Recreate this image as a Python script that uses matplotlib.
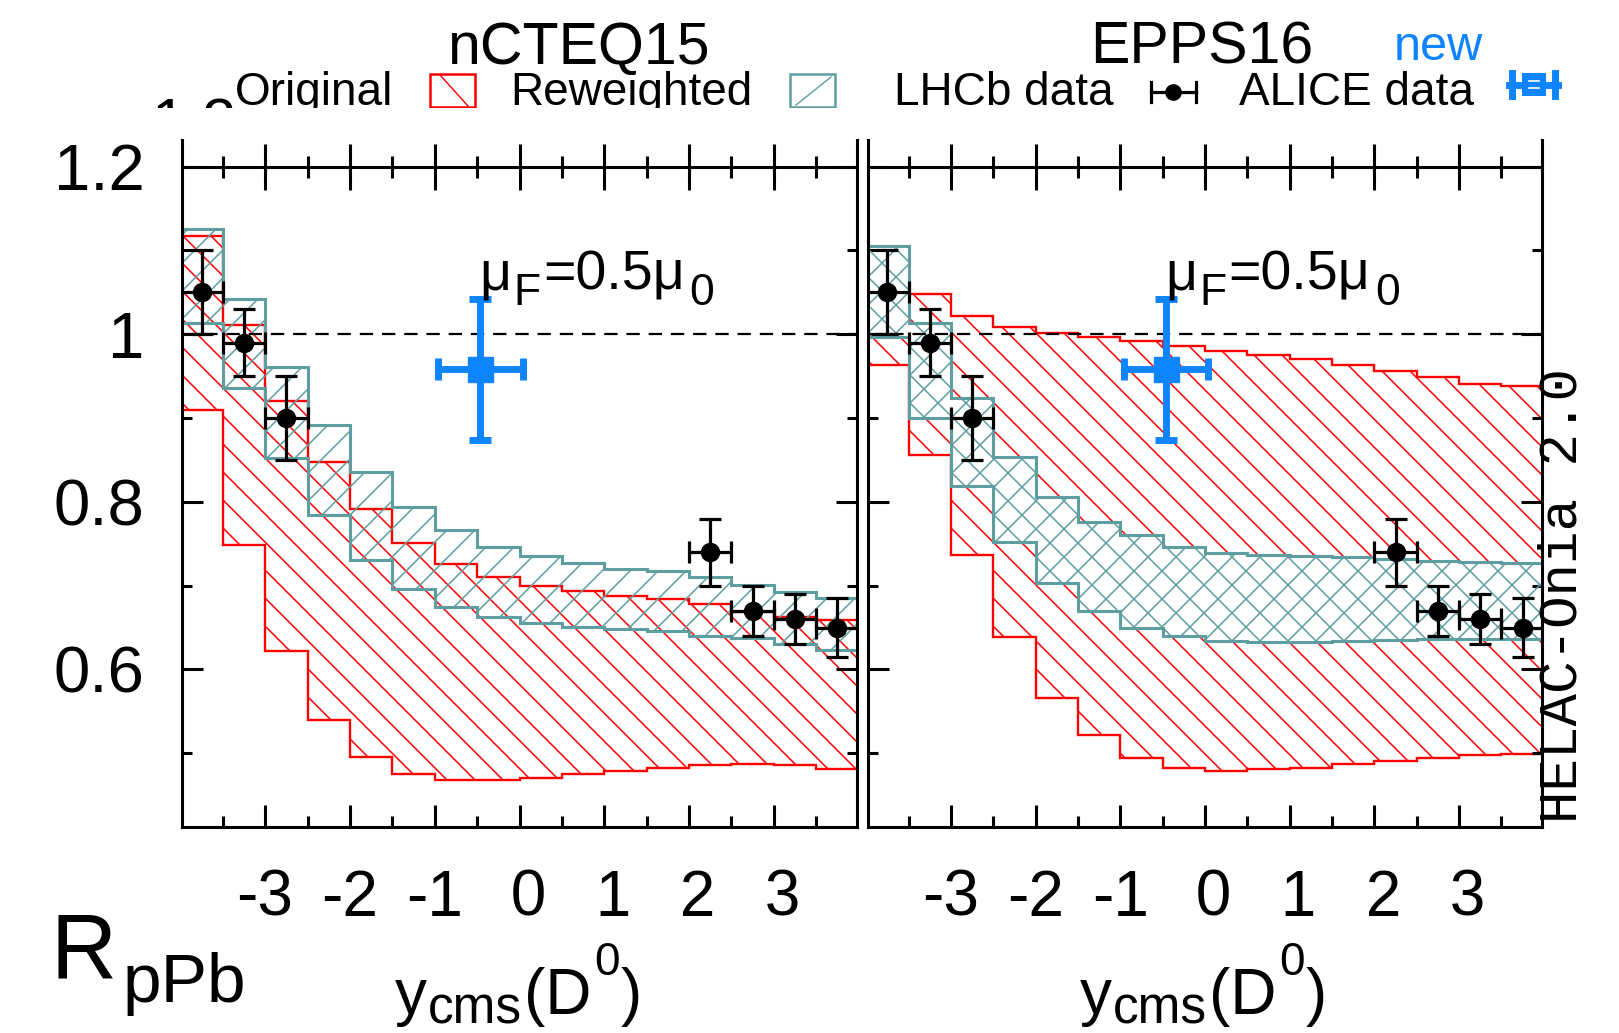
import numpy as np
import matplotlib
matplotlib.use("Agg")
import matplotlib.pyplot as plt
from matplotlib.collections import LineCollection
from matplotlib.lines import Line2D
from matplotlib.patches import Polygon, Rectangle
from matplotlib.transforms import Bbox, IdentityTransform

W, H = 1619, 1033
DPI = 100

# rapidity bins of the predictions
bin_edges = [-4.0, -3.5, -3.0, -2.5, -2.0, -1.5, -1.0, -0.5, 0.0,
             0.5, 1.0, 1.5, 2.0, 2.5, 3.0, 3.5, 4.0]

# nCTEQ15: original (red) and reweighted (teal) uncertainty bands
ncteq_orig_hi = [1.117, 1.011, 0.920, 0.847, 0.791, 0.751, 0.726, 0.710,
                 0.700, 0.694, 0.688, 0.684, 0.678, 0.668, 0.662, 0.659]
ncteq_orig_lo = [0.910, 0.748, 0.622, 0.540, 0.495, 0.475, 0.468, 0.468,
                 0.471, 0.475, 0.479, 0.483, 0.486, 0.487, 0.486, 0.481]
ncteq_rew_hi = [1.126, 1.042, 0.961, 0.892, 0.836, 0.794, 0.766, 0.746,
                0.735, 0.727, 0.720, 0.717, 0.710, 0.701, 0.693, 0.685]
ncteq_rew_lo = [1.013, 0.936, 0.852, 0.784, 0.731, 0.696, 0.674, 0.662,
                0.656, 0.651, 0.648, 0.646, 0.640, 0.638, 0.630, 0.623]

# EPPS16
epps_orig_hi = [1.102, 1.048, 1.022, 1.009, 1.002, 0.997, 0.992, 0.986,
                0.980, 0.975, 0.970, 0.963, 0.956, 0.949, 0.941, 0.938]
epps_orig_lo = [0.963, 0.856, 0.736, 0.639, 0.566, 0.522, 0.494, 0.482,
                0.479, 0.481, 0.483, 0.487, 0.491, 0.494, 0.498, 0.499]
epps_rew_hi = [1.105, 1.013, 0.924, 0.853, 0.806, 0.776, 0.760, 0.746,
               0.739, 0.736, 0.735, 0.734, 0.732, 0.730, 0.728, 0.727]
epps_rew_lo = [0.997, 0.900, 0.819, 0.752, 0.703, 0.670, 0.649, 0.640,
               0.634, 0.633, 0.633, 0.634, 0.635, 0.636, 0.636, 0.636]

# LHCb data
lhcb_y = [-3.75, -3.25, -2.75, 2.25, 2.75, 3.25, 3.75]
lhcb_r = [1.05, 0.99, 0.90, 0.74, 0.67, 0.66, 0.65]
lhcb_err = [0.05, 0.04, 0.05, 0.04, 0.03, 0.03, 0.035]
lhcb_dy = [0.25, 0.25, 0.25, 0.25, 0.25, 0.25, 0.25]

# ALICE data (new)
alice_y = [-0.46]
alice_r = [0.958]
alice_err = [0.084]
alice_dy = [0.5]

x_major = [-3, -2, -1, 0, 1, 2, 3]
x_labels = ["-3", "-2", "-1", " 0", " 1", " 2", " 3"]
x_minor = [-3.5, -2.5, -1.5, -0.5, 0.5, 1.5, 2.5, 3.5]
y_major = [0.6, 0.8, 1.0, 1.2]
y_minor = [0.5, 0.7, 0.9, 1.1]
y_labels = ["0.6", "0.8", "1", "1.2"]

panel_names = ["nCTEQ15", "EPPS16"]

RED = "#ff0000"
TEAL = "#5f9ea0"
BLUE = "#0f84ff"
XLIM = (-3.98, 3.98)
YLIM = (0.412, 1.2318)

plt.rcParams["font.family"] = ["Liberation Sans", "DejaVu Sans"]
plt.rcParams["axes.unicode_minus"] = False


def fx(px):
    return px / W


def fy(py):
    return 1 - py / H


def band_polygon(edges, lo, hi):
    xs = np.repeat(edges, 2)[1:-1]
    up = np.repeat(hi, 2)
    dn = np.repeat(lo, 2)
    return np.column_stack([np.concatenate([xs, xs[::-1]]),
                            np.concatenate([up, dn[::-1]])])


def hatch(ax, patch, directions, spacing, color, lw, zorder):
    x0, y0, x1, y1 = ax.bbox.extents
    segs = []
    for d in directions:
        if d == "\\":
            cs = np.arange(np.floor((x0 + y0) / spacing), np.ceil((x1 + y1) / spacing) + 1) * spacing
            segs += [[(c - y0, y0), (c - y1, y1)] for c in cs]
        else:
            cs = np.arange(np.floor((y0 - x1) / spacing), np.ceil((y1 - x0) / spacing) + 1) * spacing
            segs += [[(y0 - c, y0), (y1 - c, y1)] for c in cs]
    lc = LineCollection(segs, colors=color, linewidths=lw,
                        transform=IdentityTransform(), zorder=zorder)
    ax.add_collection(lc, autolim=False)
    lc.set_clip_path(patch)


def compose(x, y, pieces):
    """Write text pieces one after another; x, y are display pixels (baseline)."""
    renderer = fig.canvas.get_renderer()
    for s, size, dy, gap in pieces:
        t = fig.text(x, y + dy, s, fontsize=size, ha="left", va="baseline",
                     transform=IdentityTransform(), zorder=8)
        x += t.get_window_extent(renderer).width + gap


def draw_panel(ax, orig_lo, orig_hi, rew_lo, rew_hi, cross):
    ax.set_xlim(*XLIM)
    ax.set_ylim(*YLIM)

    red_poly = band_polygon(bin_edges, orig_lo, orig_hi)
    red_patch = Polygon(red_poly, closed=True, facecolor="none", edgecolor="none", zorder=1)
    ax.add_patch(red_patch)
    hatch(ax, red_patch, ["\\"], 28, RED, 1.1, 1.1)
    ax.add_patch(Polygon(red_poly, closed=True, facecolor="none", edgecolor=RED,
                         lw=1.7, zorder=1.2))

    teal_poly = band_polygon(bin_edges, rew_lo, rew_hi)
    teal_patch = Polygon(teal_poly, closed=True, facecolor="white" if cross else "none",
                         edgecolor="none", zorder=1.5)
    ax.add_patch(teal_patch)
    hatch(ax, teal_patch, ["/", "\\"] if cross else ["/"], 28, TEAL, 1.1, 1.6)
    ax.add_patch(Polygon(teal_poly, closed=True, facecolor="none", edgecolor=TEAL,
                         lw=2.2, zorder=1.7))

    ax.axhline(1.0, color="black", lw=1.6, ls=(0, (6, 4)), zorder=2)

    ax.errorbar(lhcb_y, lhcb_r, xerr=lhcb_dy, yerr=lhcb_err, fmt="o", color="black",
                ms=13, elinewidth=2.3, capsize=8, capthick=2.3, zorder=6)
    ax.errorbar(alice_y, alice_r, xerr=alice_dy, yerr=alice_err, fmt="s", color=BLUE,
                ms=18, elinewidth=5, capsize=8, capthick=5, zorder=7)

    for side in ["left", "right", "bottom"]:
        ax.spines[side].set_linewidth(2.2)
    ax.spines["top"].set_visible(False)

    ax.set_xticks(x_major)
    ax.set_xticklabels(x_labels)
    ax.set_xticks(x_minor, minor=True)
    ax.set_yticks(y_major)
    ax.set_yticks(y_minor, minor=True)
    ax.set_yticklabels(y_labels)
    ax.tick_params(axis="x", which="both", direction="in", width=2.2, top=False,
                   labelsize=46, pad=30)
    ax.tick_params(axis="x", which="major", length=16)
    ax.tick_params(axis="x", which="minor", length=8)
    ax.tick_params(axis="y", which="both", direction="in", width=2.2, right=True,
                   labelsize=47, pad=27)
    ax.tick_params(axis="y", which="major", length=15)
    ax.tick_params(axis="y", which="minor", length=7)

    # line at 1.2 with crossing ticks
    loc = (1.2 - YLIM[0]) / (YLIM[1] - YLIM[0])
    sec = ax.secondary_xaxis(loc)
    sec.set_xticks(x_major)
    sec.set_xticks(x_minor, minor=True)
    sec.tick_params(which="both", direction="inout", width=2.2,
                    labeltop=False, labelbottom=False)
    sec.tick_params(which="major", length=33)
    sec.tick_params(which="minor", length=16)
    for sp in sec.spines.values():
        sp.set_linewidth(2.2)


fig = plt.figure(figsize=(W / DPI, H / DPI), dpi=DPI)
ax1 = fig.add_axes([fx(182), fy(827), fx(857 - 182), (827 - 140) / H])
ax2 = fig.add_axes([fx(868), fy(827), fx(1542 - 868), (827 - 140) / H])

draw_panel(ax1, ncteq_orig_lo, ncteq_orig_hi, ncteq_rew_lo, ncteq_rew_hi, cross=False)
draw_panel(ax2, epps_orig_lo, epps_orig_hi, epps_rew_lo, epps_rew_hi, cross=True)
ax2.tick_params(axis="y", labelleft=False)

# scale annotation in each panel
for ax in [ax1, ax2]:
    px, py = ax.transData.transform((-0.47, 1.053))
    compose(px, py, [("\u03bc", 40, 0, 2), ("F", 32, -15, 2),
                     ("=0.5\u03bc", 40, 0, 5), ("0", 32, -15, 0)])

# titles
fig.text(fx(578), fy(64), panel_names[0], fontsize=42.5, ha="center", va="baseline")
fig.text(fx(1202), fy(64), panel_names[1], fontsize=42.5, ha="center", va="baseline")
fig.text(fx(1394), fy(60), "new", fontsize=35, color=BLUE, ha="left", va="baseline")

# legend row, cut off at the bottom
clip = Bbox.from_extents(0, H - 107.5, W, H)


def clipped(artist):
    artist.set_clip_box(clip)
    artist.set_clip_on(True)
    return artist


clipped(fig.text(fx(151), fy(141), "1.2", fontsize=44, ha="left", va="baseline"))
for label, x in [("Original", 235), ("Reweighted", 510), ("LHCb data", 894), ("ALICE data", 1239)]:
    clipped(fig.text(fx(x), fy(105), label, fontsize=33, ha="left", va="baseline"))

tf = fig.transFigure
fig.add_artist(clipped(Rectangle((fx(430), fy(107)), fx(45), 33 / H, transform=tf,
                                 facecolor="none", edgecolor=RED, lw=1.8)))
fig.add_artist(clipped(Line2D([fx(440), fx(468)], [fy(75), fy(106)], transform=tf,
                              color=RED, lw=1.0)))
fig.add_artist(clipped(Rectangle((fx(790), fy(107)), fx(45), 33 / H, transform=tf,
                                 facecolor="none", edgecolor=TEAL, lw=1.8)))
fig.add_artist(clipped(Line2D([fx(796), fx(831)], [fy(105), fy(77)], transform=tf,
                              color=TEAL, lw=1.0)))

# LHCb legend glyph
fig.add_artist(Line2D([fx(1151), fx(1196)], [fy(92), fy(92)], transform=tf, color="black", lw=2.3))
for x in [1151, 1196]:
    fig.add_artist(Line2D([fx(x), fx(x)], [fy(82), fy(102)], transform=tf, color="black", lw=2.3))
fig.add_artist(Line2D([fx(1173)], [fy(92)], transform=tf, color="black", marker="o", ms=11))

# ALICE legend glyph
fig.add_artist(Line2D([fx(1509), fx(1558)], [fy(85), fy(85)], transform=tf, color=BLUE, lw=5))
for x in [1512, 1555]:
    fig.add_artist(Line2D([fx(x), fx(x)], [fy(73), fy(96)], transform=tf, color=BLUE, lw=5))
fig.add_artist(Rectangle((fx(1522), fy(96)), fx(24), 23 / H, transform=tf,
                         facecolor=BLUE, edgecolor="none"))
for y in [81, 88]:
    fig.add_artist(Line2D([fx(1529), fx(1539)], [fy(y), fy(y)], transform=tf, color="white", lw=1.2))

# axis labels
compose(50, H - 979, [("R", 66, 0, 6), ("pPb", 50, -23, 0)])
for x in [395, 1080]:
    compose(x, H - 1014, [("y", 46, 0, 1), ("cms", 37, -9, 2), ("(D", 46, 0, 3),
                          ("0", 33, 39, 1), (")", 46, 0, 0)])

fig.text(fx(1576), fy(823), "HELAC-Onia 2.0", family="Liberation Mono", fontsize=39,
         rotation=90, rotation_mode="anchor", ha="left", va="baseline")

fig.savefig("out.png", dpi=DPI)
